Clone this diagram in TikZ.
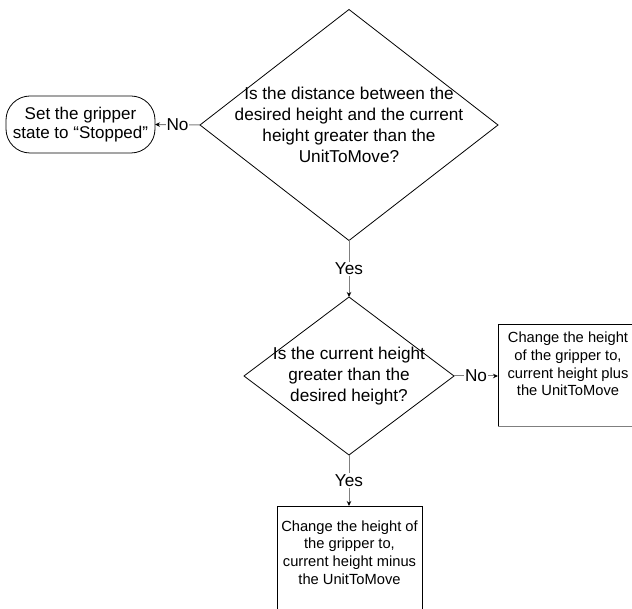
\documentclass[tikz,border=0pt]{standalone}
\usepackage{fontspec}
\setmainfont{Liberation Sans}
\usetikzlibrary{shapes.geometric,arrows.meta}
\definecolor{linegray}{HTML}{7F7F7F}
\tikzset{
  decision/.style={diamond, draw=black, line width=0.8pt, inner sep=0pt, outer sep=0pt},
  dtext/.style={align=center, inner sep=0pt, font=\fontsize{17.2}{21}\selectfont},
  terminator/.style={rectangle, rounded corners=24pt, draw=black, line width=0.8pt,
    minimum width=149pt, minimum height=57pt, inner sep=0pt, outer sep=0pt,
    align=center, font=\fontsize{17}{19.5}\selectfont},
  btext/.style={align=center, inner sep=0pt, font=\fontsize{14.7}{17.7}\selectfont},
  boxline/.style={draw=black, line width=0.8pt},
  conn/.style={draw=linegray, line width=1pt, -{Stealth[length=5pt,width=4.5pt,color=black]}},
  lbl/.style={fill=white, inner sep=1pt, font=\fontsize{17.2}{21}\selectfont}
}
\begin{document}
\begin{tikzpicture}[x=1pt, y=-1pt]
  \useasboundingbox (0,0) rectangle (632,609);

  % first decision
  \node[decision, minimum width=298pt, minimum height=231pt] (q1) at (349,125) {};
  \node[dtext] (q1t) at (q1.center) {Is the distance between the\\desired height and the current\\height greater than the\\UnitToMove?};

  % stop terminator
  \node[terminator] (stop) at (80.5,124.5) {Set the gripper\\state to “Stopped”};

  % second decision
  \node[decision, minimum width=210pt, minimum height=158pt] (q2) at (349,376) {};
  \node[dtext] (q2t) at (q2.center) {Is the current height\\greater than the\\desired height?};

  % process boxes, running on past the page edge
  \coordinate (plusTL) at (498,324);
  \coordinate (plusBL) at (498,427);
  \draw[boxline] (632,324) -- (plusTL) -- (plusBL);
  \draw[draw=linegray, line width=1pt] (plusBL) -- (632,427);
  \node[btext] (plust) at (568,364) {Change the height\\of the gripper to,\\current height plus\\the UnitToMove};

  \coordinate (minusTL) at (277,506);
  \coordinate (minusTR) at (422,506);
  \draw[boxline] (277,609) -- (minusTL) -- (minusTR) -- (422,609);
  \node[btext] (minust) at (349.5,552.5) {Change the height of\\the gripper to,\\current height minus\\the UnitToMove};

  \coordinate (plusIn) at (plusTL |- q2.east);
  \coordinate (minusIn) at (q2.south |- minusTL);

  % connectors
  \draw[conn] (q1.west) -- node[lbl] {No} (stop.east);
  \draw[conn] (q1.south) -- node[lbl] {Yes} (q2.north);
  \draw[conn] (q2.east) -- node[lbl] {No} (plusIn);
  \draw[conn] (q2.south) -- node[lbl] {Yes} (minusIn);
\end{tikzpicture}
\end{document}
